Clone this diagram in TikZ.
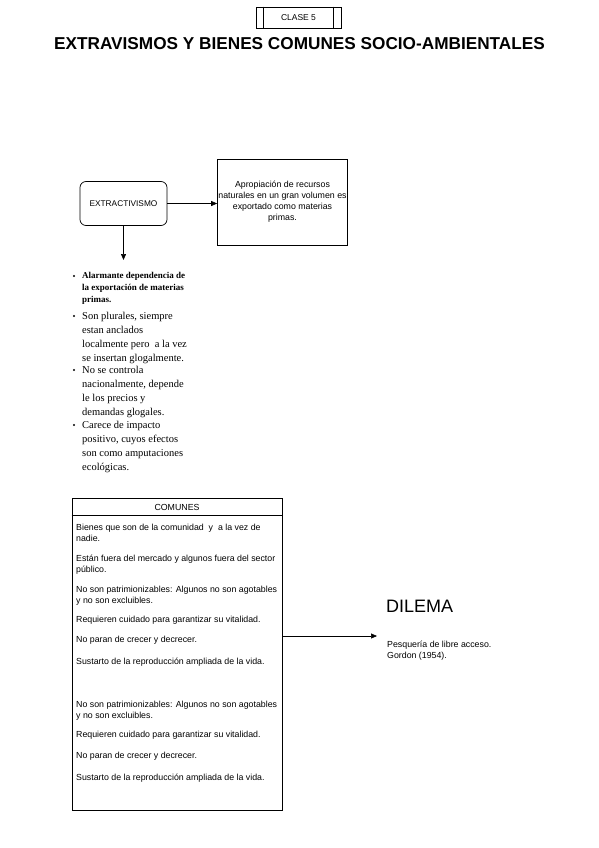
\documentclass[tikz,border=0pt]{standalone}
\usepackage{fontspec}
\setmainfont{Liberation Sans}
\newfontfamily\serifx{Liberation Serif}
\usetikzlibrary{arrows.meta}
\begin{document}
\begin{tikzpicture}[x=1pt,y=-1pt,
  box/.style={draw, line width=0.7pt, inner sep=0pt},
  arr/.style={-{Triangle[length=6pt,width=5pt]}, line width=0.6pt},
  small/.style={font=\fontsize{8.8}{11}\selectfont},
  para/.style={anchor=north west, align=left, inner sep=0pt, font=\fontsize{8.8}{11}\selectfont},
  item/.style={anchor=north west, align=left, inner sep=0pt, font=\serifx\fontsize{10.5}{13.7}\selectfont},
  dot/.style={circle, fill, inner sep=0pt, minimum size=2.2pt}]
\useasboundingbox (0,0) rectangle (599,848);
% header
\node[box, minimum width=85pt, minimum height=21pt, font=\fontsize{8.5}{10}\selectfont] (clase) at (298.5,17.5) {CLASE 5};
\draw[line width=0.7pt] ([xshift=8pt]clase.north west) -- ([xshift=8pt]clase.south west);
\draw[line width=0.7pt] ([xshift=-8pt]clase.north east) -- ([xshift=-8pt]clase.south east);
\node[font=\bfseries\fontsize{17.2}{20}\selectfont] (title) at (299.5,44) {EXTRAVISMOS Y BIENES COMUNES SOCIO-AMBIENTALES};
% extractivismo
\node[box, rounded corners=6pt, minimum width=87pt, minimum height=44pt, font=\fontsize{8.3}{10}\selectfont] (ext) at (123.5,203.5) {EXTRACTIVISMO};
\node[box, minimum width=130pt, minimum height=86pt, align=center, small] (apro) at (282.5,202) {Apropiación de recursos\\naturales en un gran volumen es\\exportado como materias\\primas.};
\draw[arr] (ext.east) -- (ext.east -| apro.west);
\coordinate (tip) at (123.5,260);
\draw[arr] (ext.south) -- (tip);
% bullet list
\node[dot] (b1) at (74,276) {};
\node[dot] (b2) at (74,316) {};
\node[dot] (b3) at (74,370) {};
\node[dot] (b4) at (74,425) {};
\node[item, font=\serifx\bfseries\fontsize{9}{11.8}\selectfont] (i1) at (82,272.5) {Alarmante dependencia de\\la exportación de materias\\primas.};
\node[item] (i2) at (82,312.5) {Son plurales, siempre\\estan anclados\\localmente pero\ \ a la vez\\se insertan glogalmente.};
\node[item] (i3) at (82,366.5) {No se controla\\nacionalmente, depende\\le los precios y\\demandas glogales.};
\node[item] (i4) at (82,421.5) {Carece de impacto\\positivo, cuyos efectos\\son como amputaciones\\ecológicas.};
% comunes
\node[box, minimum width=210pt, minimum height=312pt] (com) at (177,654) {};
\draw[line width=0.7pt] ([yshift=-18pt]com.north west) -- ([yshift=-18pt]com.north east);
\node[small] (comt) at (177,507.5) {COMUNES};
\node[para] (p1) at (76,523.5) {Bienes que son de la comunidad\ \ y\ \ a la vez de\\nadie.};
\node[para] (p2) at (76,554.5) {Están fuera del mercado y algunos fuera del sector\\público.};
\node[para] (p3) at (76,585.5) {No son patrimionizables: Algunos no son agotables\\y no son excluibles.};
\node[para] (p4) at (76,615.5) {Requieren cuidado para garantizar su vitalidad.};
\node[para] (p5) at (76,635.5) {No paran de crecer y decrecer.};
\node[para] (p6) at (76,657.5) {Sustarto de la reproducción ampliada de la vida.};
\node[para] (p7) at (76,700.5) {No son patrimionizables: Algunos no son agotables\\y no son excluibles.};
\node[para] (p8) at (76,730.5) {Requieren cuidado para garantizar su vitalidad.};
\node[para] (p9) at (76,751.5) {No paran de crecer y decrecer.};
\node[para] (p10) at (76,773.5) {Sustarto de la reproducción ampliada de la vida.};
% dilema
\coordinate (dtip) at (377,636);
\draw[arr] (com.east |- dtip) -- (dtip);
\node[anchor=west, inner sep=0pt, font=\fontsize{18}{20}\selectfont] (dil) at (386,606) {DILEMA};
\node[para] (pes) at (387,641) {Pesquería de libre acceso.\\Gordon (1954).};
\end{tikzpicture}
\end{document}
